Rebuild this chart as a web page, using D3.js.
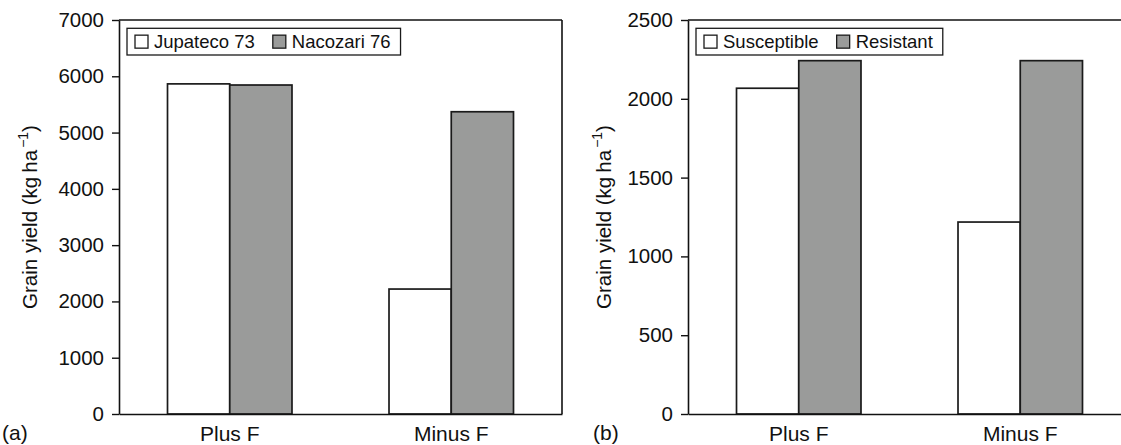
<!DOCTYPE html>
<html>
<head>
<meta charset="utf-8">
<script src="https://cdn.jsdelivr.net/npm/d3@7/dist/d3.min.js"></script>
<style>
  body { margin: 0; background: #fff; }
  svg { display: block; }
  text { font-family: "Liberation Sans", Arial, Helvetica, sans-serif; fill: #111; }
</style>
</head>
<body>
<svg id="chart" width="1121" height="445"></svg>
<script>
// ---- data ----
const categories = ["Plus F", "Minus F"];

const seriesA = ["Jupateco 73", "Nacozari 76"];
const jupateco73 = [5865, 2220];
const nacozari76 = [5845, 5370];
const ticksA = [0, 1000, 2000, 3000, 4000, 5000, 6000, 7000];

const seriesB = ["Susceptible", "Resistant"];
const susceptible = [2067, 1218];
const resistant = [2242, 2242];
const ticksB = [0, 500, 1000, 1500, 2000, 2500];

const fills = ["#ffffff", "#9a9b9a"];

const svg = d3.select("#chart");

function panel(opts) {
  const { left, right, top, bottom, yMax, ticks, series, values, label, labelX, titleX } = opts;
  const g = svg.append("g");

  const x = d3.scaleBand().domain(categories).range([left, right])
    .paddingInner(0.438).paddingOuter(0.219);
  const xs = d3.scaleBand().domain(series).range([0, x.bandwidth()]);
  const y = d3.scaleLinear().domain([0, yMax]).range([bottom, top]);

  // bars
  series.forEach((s, si) => {
    g.append("g").selectAll("rect").data(categories).join("rect")
      .attr("x", c => x(c) + xs(s))
      .attr("y", (c, i) => y(values[si][i]))
      .attr("width", xs.bandwidth())
      .attr("height", (c, i) => y(0) - y(values[si][i]))
      .attr("fill", fills[si])
      .attr("stroke", "#1a1a1a")
      .attr("stroke-width", 1.7);
  });

  // frame: top and right
  g.append("line").attr("x1", left).attr("x2", right).attr("y1", top).attr("y2", top)
    .attr("stroke", "#111").attr("stroke-width", 1.6);
  g.append("line").attr("x1", right).attr("x2", right).attr("y1", top).attr("y2", bottom)
    .attr("stroke", "#111").attr("stroke-width", 1.6);

  // y axis
  const ya = g.append("g").attr("transform", `translate(${left},0)`)
    .call(d3.axisLeft(y).tickValues(ticks).tickFormat(d3.format("d"))
      .tickSize(7).tickSizeOuter(0).tickPadding(8));
  ya.select(".domain").attr("stroke", "#111").attr("stroke-width", 1.6);
  ya.selectAll(".tick line").attr("stroke", "#111").attr("stroke-width", 1.4);
  ya.selectAll(".tick text").attr("font-size", 20.5).attr("font-family", null).attr("fill", "#111");

  // x axis
  const xa = g.append("g").attr("transform", `translate(0,${bottom})`)
    .call(d3.axisBottom(x).tickSize(0).tickSizeOuter(0).tickPadding(12));
  xa.select(".domain").attr("stroke", "#111").attr("stroke-width", 1.6);
  xa.selectAll(".tick text").attr("font-size", 21).attr("font-family", null).attr("fill", "#111");

  // y title
  const t = g.append("text")
    .attr("transform", `translate(${titleX},${(top + bottom) / 2}) rotate(-90)`)
    .attr("text-anchor", "middle")
    .attr("font-size", 20.5);
  t.append("tspan").text("Grain yield (kg\u2009ha");
  t.append("tspan").attr("font-size", 14).attr("dx", 2).attr("dy", -9).text("\u22121");
  t.append("tspan").attr("dy", 9).text(")");

  // panel label
  g.append("text").attr("x", labelX).attr("y", 440).attr("font-size", 21).text(label);

  // legend
  const lg = g.append("g");
  const boxX = left + 8, boxY = 28.3, boxH = 26.7;
  const box = lg.append("rect").attr("x", boxX).attr("y", boxY).attr("height", boxH)
    .attr("fill", "#fff").attr("stroke", "#1a1a1a").attr("stroke-width", 1.3);
  let cx = boxX + 8;
  series.forEach((s, si) => {
    lg.append("rect").attr("x", cx).attr("y", boxY + boxH / 2 - 6.5)
      .attr("width", 13).attr("height", 13)
      .attr("fill", fills[si]).attr("stroke", "#1a1a1a").attr("stroke-width", 1.3);
    const tx = lg.append("text").attr("x", cx + 19).attr("y", boxY + boxH / 2 + 6.6)
      .attr("font-size", 18.5).text(s);
    const w = tx.node().getComputedTextLength();
    cx = cx + 19 + w + 18;
  });
  box.attr("width", cx - 18 + 10 - boxX);
}

panel({ left: 119, right: 562, top: 20, bottom: 414, yMax: 7000, ticks: ticksA,
        series: seriesA, values: [jupateco73, nacozari76], label: "(a)", labelX: 2, titleX: 37 });
panel({ left: 688, right: 1131, top: 20, bottom: 414, yMax: 2500, ticks: ticksB,
        series: seriesB, values: [susceptible, resistant], label: "(b)", labelX: 593, titleX: 611 });
</script>
</body>
</html>
